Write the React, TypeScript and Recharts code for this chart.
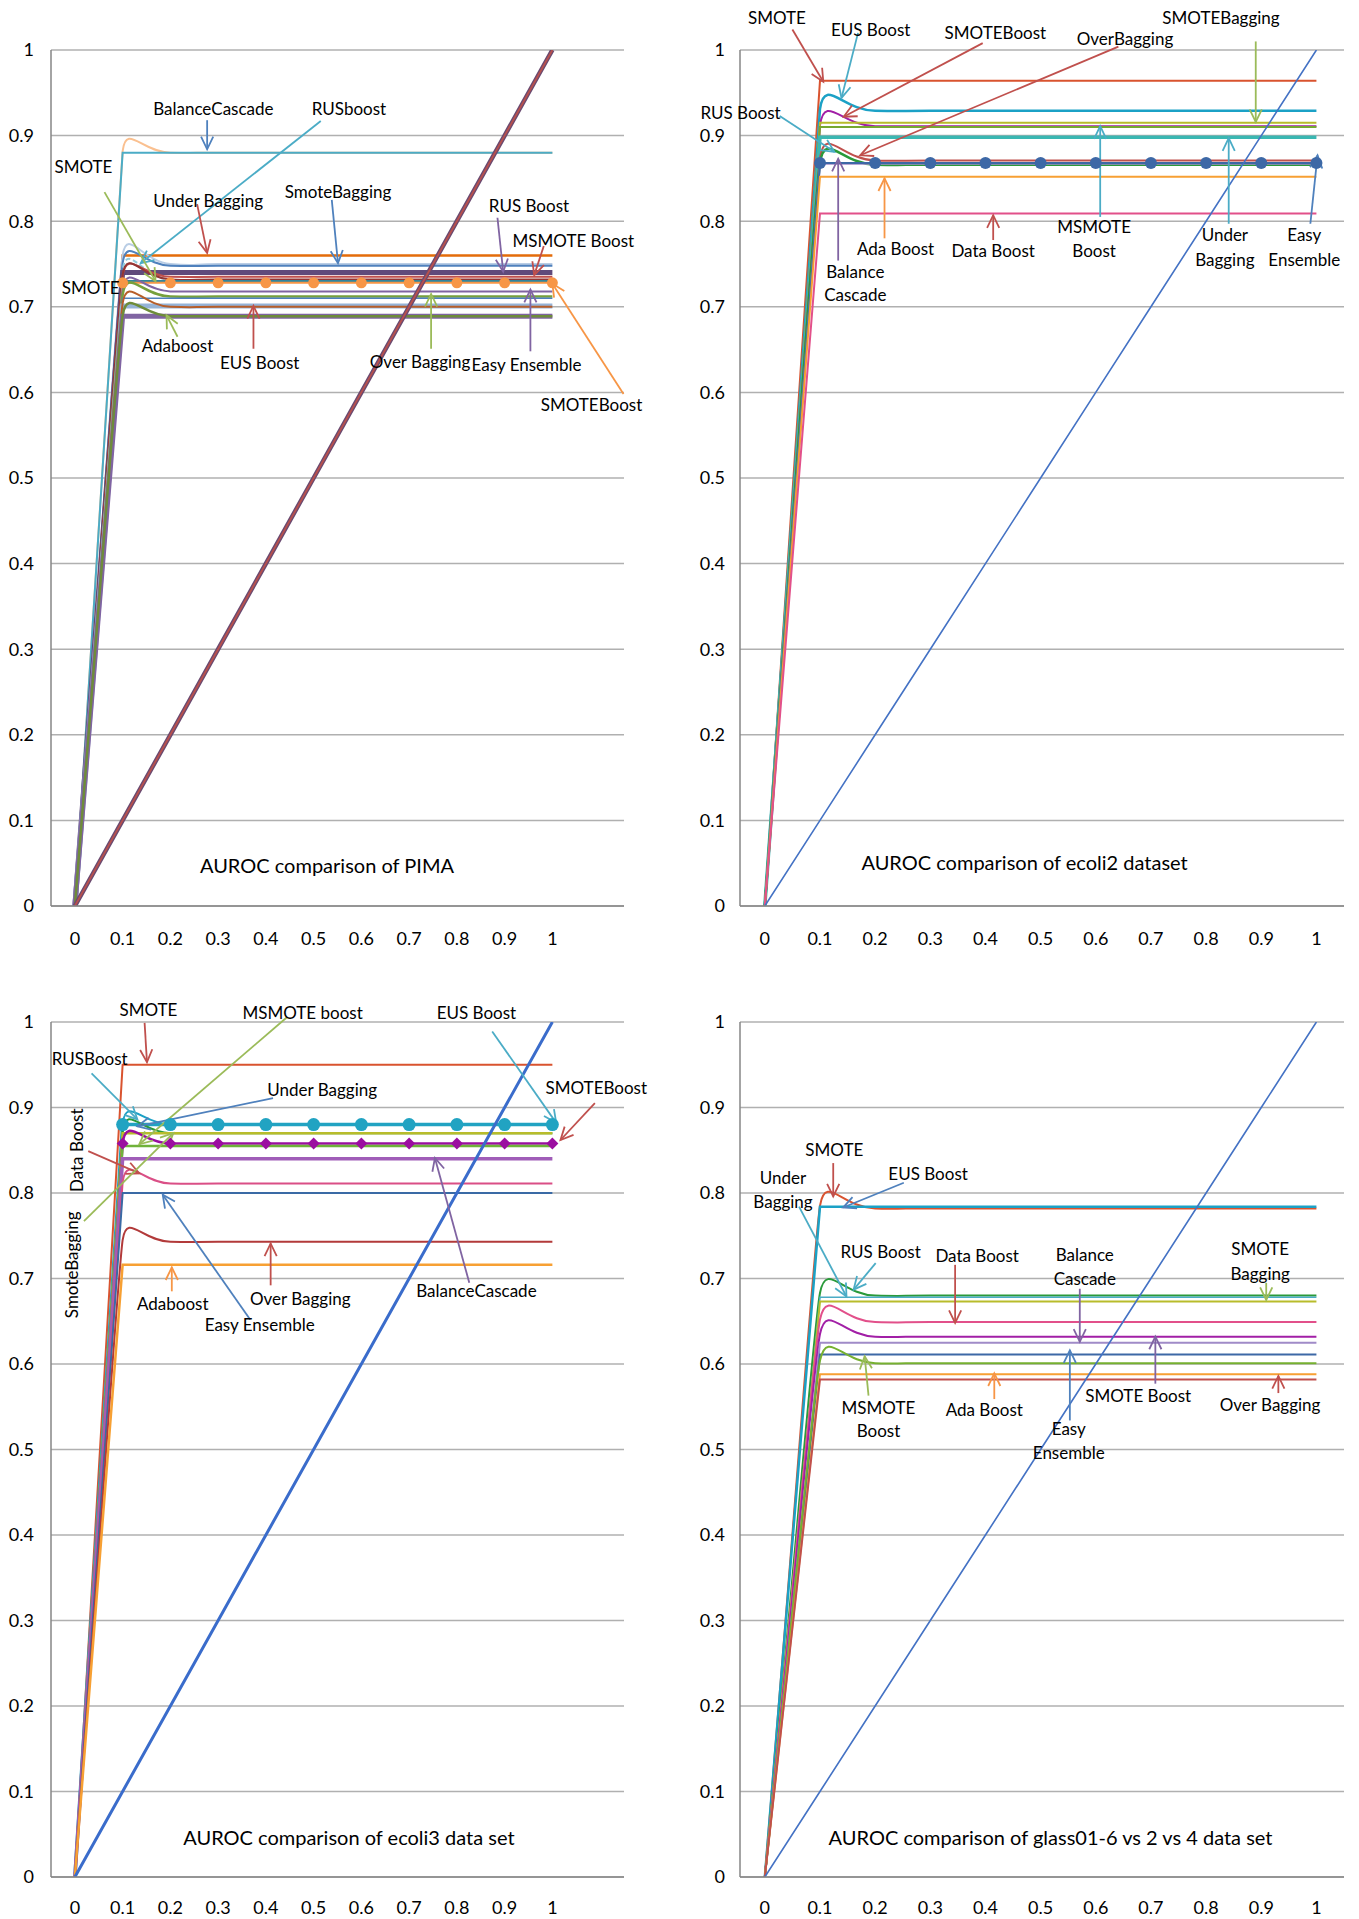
import React from "react"
import { LineChart, Line, XAxis, YAxis, CartesianGrid, ReferenceLine, ReferenceDot } from "recharts"

const FONT = "Lato, 'Open Sans', sans-serif"

const xValues = [0, 0.1, 0.2, 0.3, 0.4, 0.5, 0.6, 0.7, 0.8, 0.9, 1]
const yTicks = [0, 0.1, 0.2, 0.3, 0.4, 0.5, 0.6, 0.7, 0.8, 0.9, 1]
const diagonal = [0, 0.1, 0.2, 0.3, 0.4, 0.5, 0.6, 0.7, 0.8, 0.9, 1]

// PIMA
const pimaSmote = [0, 0.882, 0.88, 0.88, 0.88, 0.88, 0.88, 0.88, 0.88, 0.88, 0.88]
const pimaBalanceCascade = [0, 0.88, 0.88, 0.88, 0.88, 0.88, 0.88, 0.88, 0.88, 0.88, 0.88]
const pimaUnderBagging = [0, 0.76, 0.76, 0.76, 0.76, 0.76, 0.76, 0.76, 0.76, 0.76, 0.76]
const pimaRusboost = [0, 0.76, 0.75, 0.75, 0.75, 0.75, 0.75, 0.75, 0.75, 0.75, 0.75]
const pimaSmoteBagging = [0, 0.751, 0.748, 0.748, 0.748, 0.748, 0.748, 0.748, 0.748, 0.748, 0.748]
const pimaSmote2 = [0, 0.743, 0.731, 0.731, 0.731, 0.731, 0.731, 0.731, 0.731, 0.731, 0.731]
const pimaRusBoost = [0, 0.74, 0.74, 0.74, 0.74, 0.74, 0.74, 0.74, 0.74, 0.74, 0.74]
const pimaMsmoteBoost = [0, 0.736, 0.735, 0.735, 0.735, 0.735, 0.735, 0.735, 0.735, 0.735, 0.735]
const pimaDataBoost = [0, 0.737, 0.732, 0.732, 0.732, 0.732, 0.732, 0.732, 0.732, 0.732, 0.732]
const pimaTeal = [0, 0.73, 0.73, 0.73, 0.73, 0.73, 0.73, 0.73, 0.73, 0.73, 0.73]
const pimaSmoteBoost = [0, 0.728, 0.728, 0.728, 0.728, 0.728, 0.728, 0.728, 0.728, 0.728, 0.728]
const pimaEasyEnsemble = [0, 0.72, 0.718, 0.718, 0.718, 0.718, 0.718, 0.718, 0.718, 0.718, 0.718]
const pimaOverBagging = [0, 0.714, 0.712, 0.712, 0.712, 0.712, 0.712, 0.712, 0.712, 0.712, 0.712]
const pimaBlue = [0, 0.71, 0.71, 0.71, 0.71, 0.71, 0.71, 0.71, 0.71, 0.71, 0.71]
const pimaLightBlue = [0, 0.701, 0.701, 0.701, 0.701, 0.701, 0.701, 0.701, 0.701, 0.701, 0.701]
const pimaEusBoost = [0, 0.704, 0.7, 0.7, 0.7, 0.7, 0.7, 0.7, 0.7, 0.7, 0.7]
const pimaPurple = [0, 0.689, 0.689, 0.689, 0.689, 0.689, 0.689, 0.689, 0.689, 0.689, 0.689]
const pimaAdaboost = [0, 0.69, 0.689, 0.689, 0.689, 0.689, 0.689, 0.689, 0.689, 0.689, 0.689]

// ecoli2
const e2Smote = [0, 0.964, 0.964, 0.964, 0.964, 0.964, 0.964, 0.964, 0.964, 0.964, 0.964]
const e2EusBoost = [0, 0.931, 0.929, 0.929, 0.929, 0.929, 0.929, 0.929, 0.929, 0.929, 0.929]
const e2SmoteBoost = [0, 0.912, 0.911, 0.911, 0.911, 0.911, 0.911, 0.911, 0.911, 0.911, 0.911]
const e2SmoteBagging = [0, 0.915, 0.915, 0.915, 0.915, 0.915, 0.915, 0.915, 0.915, 0.915, 0.915]
const e2MsmoteBoost = [0, 0.91, 0.91, 0.91, 0.91, 0.91, 0.91, 0.91, 0.91, 0.91, 0.91]
const e2UnderBagging = [0, 0.898, 0.898, 0.898, 0.898, 0.898, 0.898, 0.898, 0.898, 0.898, 0.898]
const e2OverBagging = [0, 0.874, 0.871, 0.871, 0.871, 0.871, 0.871, 0.871, 0.871, 0.871, 0.871]
const e2RusBoost = [0, 0.868, 0.866, 0.866, 0.866, 0.866, 0.866, 0.866, 0.866, 0.866, 0.866]
const e2EasyEnsemble = [0, 0.868, 0.868, 0.868, 0.868, 0.868, 0.868, 0.868, 0.868, 0.868, 0.868]
const e2BalanceCascade = [0, 0.867, 0.867, 0.867, 0.867, 0.867, 0.867, 0.867, 0.867, 0.867, 0.867]
const e2AdaBoost = [0, 0.852, 0.852, 0.852, 0.852, 0.852, 0.852, 0.852, 0.852, 0.852, 0.852]
const e2DataBoost = [0, 0.809, 0.809, 0.809, 0.809, 0.809, 0.809, 0.809, 0.809, 0.809, 0.809]

// ecoli3
const e3Smote = [0, 0.95, 0.95, 0.95, 0.95, 0.95, 0.95, 0.95, 0.95, 0.95, 0.95]
const e3RusBoost = [0, 0.881, 0.88, 0.88, 0.88, 0.88, 0.88, 0.88, 0.88, 0.88, 0.88]
const e3EusBoost = [0, 0.88, 0.88, 0.88, 0.88, 0.88, 0.88, 0.88, 0.88, 0.88, 0.88]
const e3UnderBagging = [0, 0.872, 0.87, 0.87, 0.87, 0.87, 0.87, 0.87, 0.87, 0.87, 0.87]
const e3MsmoteBoost = [0, 0.87, 0.87, 0.87, 0.87, 0.87, 0.87, 0.87, 0.87, 0.87, 0.87]
const e3SmoteBoost = [0, 0.858, 0.858, 0.858, 0.858, 0.858, 0.858, 0.858, 0.858, 0.858, 0.858]
const e3SmoteBagging = [0, 0.855, 0.855, 0.855, 0.855, 0.855, 0.855, 0.855, 0.855, 0.855, 0.855]
const e3BalanceCascade = [0, 0.84, 0.84, 0.84, 0.84, 0.84, 0.84, 0.84, 0.84, 0.84, 0.84]
const e3DataBoost = [0, 0.813, 0.811, 0.811, 0.811, 0.811, 0.811, 0.811, 0.811, 0.811, 0.811]
const e3EasyEnsemble = [0, 0.8, 0.8, 0.8, 0.8, 0.8, 0.8, 0.8, 0.8, 0.8, 0.8]
const e3OverBagging = [0, 0.745, 0.743, 0.743, 0.743, 0.743, 0.743, 0.743, 0.743, 0.743, 0.743]
const e3Adaboost = [0, 0.716, 0.716, 0.716, 0.716, 0.716, 0.716, 0.716, 0.716, 0.716, 0.716]

// glass01-6 vs 2 vs 4
const gSmote = [0, 0.785, 0.782, 0.782, 0.782, 0.782, 0.782, 0.782, 0.782, 0.782, 0.782]
const gEusBoost = [0, 0.784, 0.784, 0.784, 0.784, 0.784, 0.784, 0.784, 0.784, 0.784, 0.784]
const gRusBoost = [0, 0.683, 0.68, 0.68, 0.68, 0.68, 0.68, 0.68, 0.68, 0.68, 0.68]
const gUnderBagging = [0, 0.678, 0.678, 0.678, 0.678, 0.678, 0.678, 0.678, 0.678, 0.678, 0.678]
const gSmoteBagging = [0, 0.673, 0.673, 0.673, 0.673, 0.673, 0.673, 0.673, 0.673, 0.673, 0.673]
const gDataBoost = [0, 0.652, 0.649, 0.649, 0.649, 0.649, 0.649, 0.649, 0.649, 0.649, 0.649]
const gSmoteBoost = [0, 0.635, 0.632, 0.632, 0.632, 0.632, 0.632, 0.632, 0.632, 0.632, 0.632]
const gBalanceCascade = [0, 0.625, 0.625, 0.625, 0.625, 0.625, 0.625, 0.625, 0.625, 0.625, 0.625]
const gEasyEnsemble = [0, 0.611, 0.611, 0.611, 0.611, 0.611, 0.611, 0.611, 0.611, 0.611, 0.611]
const gMsmoteBoost = [0, 0.604, 0.601, 0.601, 0.601, 0.601, 0.601, 0.601, 0.601, 0.601, 0.601]
const gAdaBoost = [0, 0.588, 0.588, 0.588, 0.588, 0.588, 0.588, 0.588, 0.588, 0.588, 0.588]
const gOverBagging = [0, 0.582, 0.582, 0.582, 0.582, 0.582, 0.582, 0.582, 0.582, 0.582, 0.582]

type Series = {
  values: number[]
  color: string
  width: number
  smooth?: boolean
  dash?: string
  marker?: "circle" | "diamond"
  markerSize?: number
}
type Note = { text: string; x: number; y: number; size?: number; rotate?: boolean }
type Arrow = { x1: number; y1: number; x2: number; y2: number; color: string }

const BLUE = "#4F81BD"
const RED = "#C0504D"
const GREEN = "#9BBB59"
const PURPLE = "#8064A2"
const AQUA = "#4BACC6"
const ORANGE = "#F79646"

const pimaSeries: Series[] = [
  { values: pimaSmote, color: "#FAC090", width: 2, smooth: true },
  { values: pimaBalanceCascade, color: AQUA, width: 2 },
  { values: pimaUnderBagging, color: "#E46C0A", width: 2.5 },
  { values: pimaRusboost, color: "#B9CDE5", width: 2, smooth: true },
  { values: pimaSmoteBagging, color: BLUE, width: 2, smooth: true },
  { values: pimaSmote2, color: "#93CDDD", width: 2, smooth: true, dash: "5 3" },
  { values: pimaRusBoost, color: "#604A7B", width: 5 },
  { values: pimaMsmoteBoost, color: RED, width: 2, smooth: true },
  { values: pimaDataBoost, color: "#943634", width: 2, smooth: true },
  { values: pimaTeal, color: "#31859C", width: 2 },
  { values: pimaSmoteBoost, color: ORANGE, width: 2, marker: "circle", markerSize: 5.5 },
  { values: pimaEasyEnsemble, color: PURPLE, width: 2, smooth: true },
  { values: pimaOverBagging, color: "#77A03C", width: 2.5, smooth: true },
  { values: pimaBlue, color: BLUE, width: 1.5 },
  { values: pimaLightBlue, color: "#95B3D7", width: 5 },
  { values: pimaEusBoost, color: "#B65E2A", width: 2, smooth: true },
  { values: pimaPurple, color: PURPLE, width: 5 },
  { values: pimaAdaboost, color: "#6E8C3A", width: 2.5, smooth: true },
]

const e2Series: Series[] = [
  { values: e2Smote, color: "#D9532F", width: 2 },
  { values: e2EusBoost, color: "#1BA1C6", width: 2.5, smooth: true },
  { values: e2SmoteBoost, color: "#A21FA6", width: 2, smooth: true },
  { values: e2SmoteBagging, color: "#B8BC2B", width: 2 },
  { values: e2MsmoteBoost, color: "#76A830", width: 2 },
  { values: e2UnderBagging, color: "#3AB7B2", width: 3.5 },
  { values: e2OverBagging, color: RED, width: 2, smooth: true },
  { values: e2RusBoost, color: "#2A9A3A", width: 2.5, smooth: true },
  { values: e2BalanceCascade, color: "#A08BC8", width: 2 },
  { values: e2EasyEnsemble, color: "#3D68A6", width: 2, marker: "circle", markerSize: 6 },
  { values: e2AdaBoost, color: "#F7A033", width: 2 },
  { values: e2DataBoost, color: "#E2508A", width: 2 },
]

const e3Series: Series[] = [
  { values: e3Smote, color: "#D9532F", width: 2 },
  { values: e3RusBoost, color: "#1BA1C6", width: 2, smooth: true },
  { values: e3EusBoost, color: "#21A3C2", width: 3.5, marker: "circle", markerSize: 6.5 },
  { values: e3UnderBagging, color: "#2A9A3A", width: 2, smooth: true },
  { values: e3MsmoteBoost, color: "#B8BC2B", width: 2.5 },
  { values: e3SmoteBoost, color: "#9B0EA0", width: 2.5, smooth: true, marker: "diamond", markerSize: 6 },
  { values: e3SmoteBagging, color: "#70B23A", width: 2.5 },
  { values: e3BalanceCascade, color: "#A05DB8", width: 3.5 },
  { values: e3DataBoost, color: "#DA4F86", width: 2, smooth: true },
  { values: e3EasyEnsemble, color: "#3A6AA5", width: 2 },
  { values: e3OverBagging, color: "#B23A3A", width: 2, smooth: true },
  { values: e3Adaboost, color: "#F7A033", width: 2.5 },
]

const gSeries: Series[] = [
  { values: gSmote, color: "#D9532F", width: 2, smooth: true },
  { values: gEusBoost, color: "#1BA1C6", width: 2.5 },
  { values: gRusBoost, color: "#2A9A3A", width: 2, smooth: true },
  { values: gUnderBagging, color: AQUA, width: 1.5 },
  { values: gSmoteBagging, color: "#B8BC2B", width: 2 },
  { values: gDataBoost, color: "#E2508A", width: 2, smooth: true },
  { values: gSmoteBoost, color: "#A21FA6", width: 2, smooth: true },
  { values: gBalanceCascade, color: "#A08BC8", width: 2 },
  { values: gEasyEnsemble, color: "#3D68A6", width: 2 },
  { values: gMsmoteBoost, color: "#76B030", width: 2, smooth: true },
  { values: gAdaBoost, color: "#F7A033", width: 2 },
  { values: gOverBagging, color: RED, width: 2 },
]

const pimaNotes: Note[] = [
  { text: "BalanceCascade", x: 0.29, y: 0.931 },
  { text: "RUSboost", x: 0.574, y: 0.931 },
  { text: "SMOTE", x: 0.018, y: 0.863 },
  { text: "Under Bagging", x: 0.279, y: 0.824 },
  { text: "SmoteBagging", x: 0.551, y: 0.834 },
  { text: "RUS Boost", x: 0.951, y: 0.818 },
  { text: "MSMOTE Boost", x: 1.044, y: 0.777 },
  { text: "SMOTE", x: 0.033, y: 0.722 },
  { text: "Adaboost", x: 0.215, y: 0.654 },
  { text: "EUS Boost", x: 0.387, y: 0.634 },
  { text: "Over Bagging", x: 0.723, y: 0.635 },
  { text: "Easy Ensemble", x: 0.946, y: 0.632 },
  { text: "SMOTEBoost", x: 1.082, y: 0.585 },
  { text: "AUROC comparison of PIMA", x: 0.528, y: 0.047, size: 20 },
]
const pimaArrows: Arrow[] = [
  { x1: 0.277, y1: 0.918, x2: 0.277, y2: 0.884, color: BLUE },
  { x1: 0.515, y1: 0.917, x2: 0.138, y2: 0.751, color: AQUA },
  { x1: 0.062, y1: 0.834, x2: 0.169, y2: 0.73, color: GREEN },
  { x1: 0.256, y1: 0.82, x2: 0.277, y2: 0.763, color: RED },
  { x1: 0.538, y1: 0.825, x2: 0.551, y2: 0.751, color: BLUE },
  { x1: 0.885, y1: 0.804, x2: 0.897, y2: 0.741, color: PURPLE },
  { x1: 0.982, y1: 0.771, x2: 0.962, y2: 0.737, color: RED },
  { x1: 0.215, y1: 0.665, x2: 0.192, y2: 0.69, color: GREEN },
  { x1: 0.374, y1: 0.651, x2: 0.374, y2: 0.701, color: RED },
  { x1: 0.746, y1: 0.651, x2: 0.746, y2: 0.715, color: GREEN },
  { x1: 0.954, y1: 0.648, x2: 0.954, y2: 0.72, color: PURPLE },
  { x1: 1.149, y1: 0.598, x2: 1.0, y2: 0.727, color: ORANGE },
]

const e2Notes: Note[] = [
  { text: "SMOTE", x: 0.022, y: 1.037 },
  { text: "EUS Boost", x: 0.192, y: 1.023 },
  { text: "SMOTEBoost", x: 0.418, y: 1.02 },
  { text: "OverBagging", x: 0.653, y: 1.013 },
  { text: "SMOTEBagging", x: 0.827, y: 1.037 },
  { text: "RUS Boost", x: -0.044, y: 0.926 },
  { text: "Ada Boost", x: 0.237, y: 0.768 },
  { text: "Balance", x: 0.164, y: 0.741 },
  { text: "Cascade", x: 0.164, y: 0.714 },
  { text: "Data Boost", x: 0.414, y: 0.765 },
  { text: "MSMOTE", x: 0.597, y: 0.793 },
  { text: "Boost", x: 0.597, y: 0.765 },
  { text: "Under", x: 0.834, y: 0.784 },
  { text: "Bagging", x: 0.834, y: 0.755 },
  { text: "Easy", x: 0.978, y: 0.784 },
  { text: "Ensemble", x: 0.978, y: 0.755 },
  { text: "AUROC comparison of ecoli2 dataset", x: 0.471, y: 0.05, size: 20 },
]
const e2Arrows: Arrow[] = [
  { x1: 0.05, y1: 1.024, x2: 0.106, y2: 0.963, color: RED },
  { x1: 0.169, y1: 1.02, x2: 0.139, y2: 0.944, color: AQUA },
  { x1: 0.395, y1: 1.008, x2: 0.143, y2: 0.922, color: RED },
  { x1: 0.641, y1: 1.004, x2: 0.173, y2: 0.877, color: RED },
  { x1: 0.89, y1: 1.01, x2: 0.89, y2: 0.916, color: GREEN },
  { x1: 0.027, y1: 0.923, x2: 0.126, y2: 0.881, color: AQUA },
  { x1: 0.217, y1: 0.78, x2: 0.217, y2: 0.85, color: ORANGE },
  { x1: 0.133, y1: 0.754, x2: 0.133, y2: 0.873, color: PURPLE },
  { x1: 0.414, y1: 0.778, x2: 0.414, y2: 0.807, color: RED },
  { x1: 0.608, y1: 0.805, x2: 0.608, y2: 0.911, color: AQUA },
  { x1: 0.841, y1: 0.797, x2: 0.841, y2: 0.897, color: AQUA },
  { x1: 0.989, y1: 0.797, x2: 1.002, y2: 0.877, color: BLUE },
]

const e3Notes: Note[] = [
  { text: "SMOTE", x: 0.154, y: 1.014 },
  { text: "MSMOTE boost", x: 0.477, y: 1.011 },
  { text: "EUS Boost", x: 0.841, y: 1.01 },
  { text: "RUSBoost", x: 0.031, y: 0.957 },
  { text: "Under Bagging", x: 0.518, y: 0.92 },
  { text: "SMOTEBoost", x: 1.092, y: 0.923 },
  { text: "Data Boost", x: 0.005, y: 0.85, rotate: true },
  { text: "SmoteBagging", x: -0.005, y: 0.716, rotate: true },
  { text: "Adaboost", x: 0.205, y: 0.67 },
  { text: "Easy Ensemble", x: 0.387, y: 0.645 },
  { text: "Over Bagging", x: 0.472, y: 0.676 },
  { text: "BalanceCascade", x: 0.841, y: 0.685 },
  { text: "AUROC comparison of ecoli3 data set", x: 0.574, y: 0.046, size: 20 },
]
const e3Arrows: Arrow[] = [
  { x1: 0.146, y1: 0.999, x2: 0.151, y2: 0.953, color: RED },
  { x1: 0.443, y1: 1.005, x2: 0.135, y2: 0.857, color: GREEN },
  { x1: 0.874, y1: 0.989, x2: 1.008, y2: 0.882, color: AQUA },
  { x1: 0.035, y1: 0.94, x2: 0.131, y2: 0.886, color: AQUA },
  { x1: 0.415, y1: 0.911, x2: 0.131, y2: 0.878, color: BLUE },
  { x1: 1.089, y1: 0.905, x2: 1.017, y2: 0.862, color: RED },
  { x1: 0.028, y1: 0.849, x2: 0.135, y2: 0.823, color: RED },
  { x1: 0.019, y1: 0.767, x2: 0.206, y2: 0.87, color: GREEN },
  { x1: 0.203, y1: 0.685, x2: 0.203, y2: 0.713, color: ORANGE },
  { x1: 0.367, y1: 0.652, x2: 0.184, y2: 0.798, color: BLUE },
  { x1: 0.41, y1: 0.692, x2: 0.41, y2: 0.741, color: RED },
  { x1: 0.826, y1: 0.695, x2: 0.754, y2: 0.841, color: PURPLE },
]

const gNotes: Note[] = [
  { text: "SMOTE", x: 0.126, y: 0.85 },
  { text: "EUS Boost", x: 0.296, y: 0.822 },
  { text: "Under", x: 0.033, y: 0.818 },
  { text: "Bagging", x: 0.033, y: 0.789 },
  { text: "RUS Boost", x: 0.21, y: 0.731 },
  { text: "Data Boost", x: 0.385, y: 0.726 },
  { text: "Balance", x: 0.58, y: 0.728 },
  { text: "Cascade", x: 0.58, y: 0.699 },
  { text: "SMOTE", x: 0.898, y: 0.734 },
  { text: "Bagging", x: 0.898, y: 0.705 },
  { text: "MSMOTE", x: 0.206, y: 0.549 },
  { text: "Boost", x: 0.206, y: 0.521 },
  { text: "Ada Boost", x: 0.398, y: 0.546 },
  { text: "Easy", x: 0.551, y: 0.524 },
  { text: "Ensemble", x: 0.551, y: 0.496 },
  { text: "SMOTE Boost", x: 0.677, y: 0.562 },
  { text: "Over Bagging", x: 0.916, y: 0.552 },
  { text: "AUROC comparison of glass01-6 vs 2 vs 4 data set", x: 0.518, y: 0.046, size: 20 },
]
const gArrows: Arrow[] = [
  { x1: 0.124, y1: 0.835, x2: 0.124, y2: 0.796, color: RED },
  { x1: 0.252, y1: 0.812, x2: 0.142, y2: 0.783, color: BLUE },
  { x1: 0.062, y1: 0.784, x2: 0.148, y2: 0.679, color: AQUA },
  { x1: 0.201, y1: 0.718, x2: 0.161, y2: 0.687, color: AQUA },
  { x1: 0.345, y1: 0.716, x2: 0.345, y2: 0.648, color: RED },
  { x1: 0.571, y1: 0.688, x2: 0.571, y2: 0.626, color: PURPLE },
  { x1: 0.909, y1: 0.695, x2: 0.909, y2: 0.675, color: GREEN },
  { x1: 0.188, y1: 0.563, x2: 0.181, y2: 0.609, color: GREEN },
  { x1: 0.416, y1: 0.559, x2: 0.416, y2: 0.589, color: ORANGE },
  { x1: 0.553, y1: 0.534, x2: 0.553, y2: 0.616, color: BLUE },
  { x1: 0.708, y1: 0.577, x2: 0.708, y2: 0.632, color: PURPLE },
  { x1: 0.931, y1: 0.566, x2: 0.931, y2: 0.586, color: RED },
]

// smoothed line like the spreadsheet's: control arms capped by the shorter neighbouring segment,
// so the steep rise stays straight and the corner overshoots a little
const TENSION = 0.6
function smoothCurve(context: any) {
  let pts: number[][] = []
  return {
    areaStart() {},
    areaEnd() {},
    lineStart() {
      pts = []
    },
    point(x: number, y: number) {
      pts.push([+x, +y])
    },
    lineEnd() {
      const n = pts.length
      if (!n) return
      context.moveTo(pts[0][0], pts[0][1])
      const seg = (i: number) => (i < 0 || i >= n - 1 ? Infinity : Math.hypot(pts[i + 1][0] - pts[i][0], pts[i + 1][1] - pts[i][1]))
      const tangent = (i: number) => {
        const a = pts[Math.max(0, i - 1)]
        const b = pts[Math.min(n - 1, i + 1)]
        const dx = b[0] - a[0]
        const dy = b[1] - a[1]
        const len = Math.hypot(dx, dy) || 1
        return [dx / len, dy / len]
      }
      for (let i = 0; i < n - 1; i++) {
        const p = pts[i]
        const q = pts[i + 1]
        const L = seg(i)
        const d0 = TENSION * Math.min(L, seg(i - 1))
        const d1 = TENSION * Math.min(L, seg(i + 1))
        const t0 = tangent(i)
        const t1 = tangent(i + 1)
        context.bezierCurveTo(p[0] + t0[0] * d0, p[1] + t0[1] * d0, q[0] - t1[0] * d1, q[1] - t1[1] * d1, q[0], q[1])
      }
    },
  }
}

function ArrowShape(props: any) {
  const { x1, y1, x2, y2, color } = props
  const ang = Math.atan2(y2 - y1, x2 - x1)
  const h = 14
  const spread = 0.45
  const ax = x2 - h * Math.cos(ang - spread)
  const ay = y2 - h * Math.sin(ang - spread)
  const bx = x2 - h * Math.cos(ang + spread)
  const by = y2 - h * Math.sin(ang + spread)
  return (
    <g>
      <line x1={x1} y1={y1} x2={x2} y2={y2} stroke={color} strokeWidth={1.8} />
      <polyline points={`${ax},${ay} ${x2},${y2} ${bx},${by}`} fill="none" stroke={color} strokeWidth={1.8} />
    </g>
  )
}

const makeDot = (s: Series, k: number) => (p: any) => {
  const key = `dot-${k}-${p.index}`
  if (!s.marker || p.index === 0 || p.cx == null) return <g key={key} />
  const r = s.markerSize ?? 5
  if (s.marker === "diamond") {
    return <path key={key} d={`M${p.cx},${p.cy - r}L${p.cx + r},${p.cy}L${p.cx},${p.cy + r}L${p.cx - r},${p.cy}Z`} fill={s.color} />
  }
  return <circle key={key} cx={p.cx} cy={p.cy} r={r} fill={s.color} />
}

interface PanelProps {
  series: Series[]
  notes: Note[]
  arrows: Arrow[]
  xDomain: number[]
  left: number
  top: number
  width: number
  marginTop: number
  marginRight: number
  yAxisWidth: number
  xAxisHeight: number
  xTickMargin: number
  yTickMargin: number
  diagonalColor: string
  diagonalWidth: number
  diagonalInner?: string
}

function Panel(p: PanelProps) {
  const data = xValues.map((x, i) => {
    const row: Record<string, number> = { x, diag: diagonal[i] }
    p.series.forEach((s, k) => {
      row[`s${k}`] = s.values[i]
    })
    return row
  })
  const tick = { fill: "#000", fontSize: 18, fontFamily: FONT }
  return (
    <div style={{ position: "absolute", left: p.left, top: p.top }}>
      <LineChart width={p.width} height={960} data={data} margin={{ top: p.marginTop, right: p.marginRight, left: 0, bottom: 0 }}>
        <CartesianGrid vertical={false} stroke="#b0b0b0" strokeWidth={1.5} />
        <XAxis
          dataKey="x"
          type="number"
          domain={p.xDomain}
          allowDataOverflow
          ticks={xValues}
          interval={0}
          height={p.xAxisHeight}
          tickLine={false}
          axisLine={{ stroke: "#868686", strokeWidth: 1.5 }}
          tickMargin={p.xTickMargin}
          tick={tick}
          tickFormatter={(v) => String(v)}
        />
        <YAxis
          type="number"
          domain={[0, 1]}
          allowDataOverflow
          ticks={yTicks}
          interval={0}
          width={p.yAxisWidth}
          tickLine={false}
          axisLine={{ stroke: "#868686", strokeWidth: 1.5 }}
          tickMargin={p.yTickMargin}
          tick={tick}
          tickFormatter={(v) => String(v)}
        />
        {p.series.map((s, k) => (
          <Line
            key={`s${k}`}
            dataKey={`s${k}`}
            type={(s.smooth ? smoothCurve : "linear") as any}
            stroke={s.color}
            strokeWidth={s.width}
            strokeDasharray={s.dash}
            dot={s.marker ? makeDot(s, k) : false}
            activeDot={false}
            isAnimationActive={false}
          />
        ))}
        <Line dataKey="diag" type="linear" stroke={p.diagonalColor} strokeWidth={p.diagonalWidth} dot={false} activeDot={false} isAnimationActive={false} />
        {p.diagonalInner && (
          <Line dataKey="diag" type="linear" stroke={p.diagonalInner} strokeWidth={1.8} dot={false} activeDot={false} isAnimationActive={false} />
        )}
        {p.arrows.map((a, i) => (
          <ReferenceLine
            key={`a${i}`}
            segment={[
              { x: a.x1, y: a.y1 },
              { x: a.x2, y: a.y2 },
            ]}
            ifOverflow="visible"
            shape={(sp: any) => <ArrowShape {...sp} color={a.color} />}
          />
        ))}
        {p.notes.map((n, i) => (
          <ReferenceDot
            key={`n${i}`}
            x={n.x}
            y={n.y}
            r={0}
            ifOverflow="visible"
            shape={(sp: any) => (
              <text
                x={sp.cx}
                y={sp.cy}
                dy="0.35em"
                textAnchor="middle"
                fontSize={n.size ?? 17}
                fontFamily={FONT}
                fill="#000"
                transform={n.rotate ? `rotate(-90 ${sp.cx} ${sp.cy})` : undefined}
              >
                {n.text}
              </text>
            )}
          />
        ))}
      </LineChart>
    </div>
  )
}

export default function App() {
  return (
    <div style={{ position: "absolute", left: 0, top: 0, width: 1359, height: 1919, background: "#fff" }}>
      <Panel
        series={pimaSeries}
        notes={pimaNotes}
        arrows={pimaArrows}
        xDomain={[-0.05, 1.15]}
        left={0}
        top={0}
        width={680}
        marginTop={50}
        marginRight={56}
        yAxisWidth={51}
        xAxisHeight={54}
        xTickMargin={20}
        yTickMargin={11}
        diagonalColor="#6A4A70"
        diagonalWidth={4.5}
        diagonalInner="#B8504D"
      />
      <Panel
        series={e2Series}
        notes={e2Notes}
        arrows={e2Arrows}
        xDomain={[-0.045, 1.05]}
        left={680}
        top={0}
        width={679}
        marginTop={50}
        marginRight={15}
        yAxisWidth={60}
        xAxisHeight={54}
        xTickMargin={20}
        yTickMargin={9}
        diagonalColor="#4472C4"
        diagonalWidth={1.6}
      />
      <Panel
        series={e3Series}
        notes={e3Notes}
        arrows={e3Arrows}
        xDomain={[-0.05, 1.15]}
        left={0}
        top={960}
        width={680}
        marginTop={62}
        marginRight={56}
        yAxisWidth={51}
        xAxisHeight={43}
        xTickMargin={18}
        yTickMargin={11}
        diagonalColor="#3A6CCB"
        diagonalWidth={3}
      />
      <Panel
        series={gSeries}
        notes={gNotes}
        arrows={gArrows}
        xDomain={[-0.045, 1.05]}
        left={680}
        top={960}
        width={679}
        marginTop={62}
        marginRight={15}
        yAxisWidth={60}
        xAxisHeight={43}
        xTickMargin={18}
        yTickMargin={9}
        diagonalColor="#4472C4"
        diagonalWidth={1.6}
      />
    </div>
  )
}
